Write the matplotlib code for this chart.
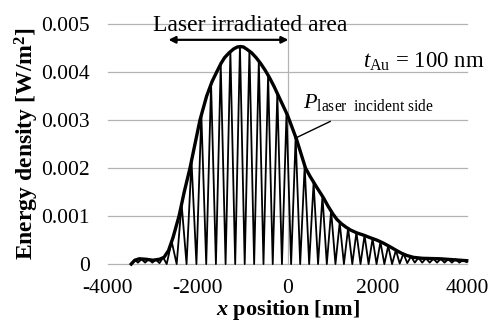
import matplotlib
matplotlib.use("Agg")
import matplotlib.pyplot as plt

plt.rcParams['font.family'] = ['Liberation Serif', 'DejaVu Serif']
plt.rcParams['mathtext.fontset'] = 'custom'
plt.rcParams['mathtext.rm'] = 'Liberation Serif'
plt.rcParams['mathtext.it'] = 'Liberation Serif:italic'
plt.rcParams['mathtext.bf'] = 'Liberation Serif:bold'
plt.rcParams['mathtext.bfit'] = 'Liberation Serif:italic:bold'

# envelope (thick line)
env_x = [-3480, -3400, -3300, -3150, -3000, -2850, -2750, -2650, -2550, -2415,
         -2300, -2171, -2060, -1949, -1800, -1680, -1577, -1480, -1400, -1300,
         -1200, -1120, -1050, -980, -900, -800, -700, -600, -500, -400,
         -300, -200, -100, 0, 100, 200, 300, 400, 500, 650,
         800, 900, 1013, 1100, 1200, 1300, 1400, 1540, 1700, 1837,
         1986, 2127, 2283, 2450, 2550, 2654, 2800, 3000, 3400, 3990]
env_y = [0.0, 0.00008, 0.00011, 0.0001, 0.00008, 0.0001, 0.00014, 0.00028, 0.00055, 0.001,
         0.0015, 0.002, 0.0025, 0.003, 0.0035, 0.0038, 0.004, 0.00418, 0.0043, 0.0044,
         0.00448, 0.00452, 0.00453, 0.00452, 0.00447, 0.0044, 0.0043, 0.00418, 0.00404, 0.00388,
         0.0037, 0.0035, 0.0033, 0.0031, 0.00285, 0.0026, 0.0023, 0.002, 0.00183, 0.0016,
         0.00138, 0.00121, 0.00104, 0.00093, 0.00084, 0.00077, 0.00071, 0.00065, 0.0006, 0.00055,
         0.0005, 0.00044, 0.00036, 0.00027, 0.00022, 0.00018, 0.00014, 0.00012, 0.00011, 0.00007]

# oscillating curve (thin line): alternating troughs and peaks
osc_x = [-3480, -3400, -3330, -3250, -3170, -3090, -3010, -2930, -2850, -2770,
         -2690, -2579, -2468, -2358, -2248, -2138, -2028, -1919, -1810, -1702,
         -1594, -1487, -1379, -1272, -1165, -1059, -953, -848, -743, -639,
         -535, -432, -329, -227, -124, -22, 80, 181, 282, 382,
         482, 581, 680, 778, 875, 971, 1067, 1162, 1256, 1349,
         1442, 1534, 1625, 1715, 1805, 1894, 1982, 2069, 2156, 2242,
         2328, 2413, 2498, 2582, 2666, 2750, 2833, 2916, 2999, 3082,
         3165, 3248, 3330, 3413, 3495, 3578, 3660, 3743, 3825, 3908, 3990]
osc_y = [0.0, 0.00009, 0.00003, 0.0001, 0.00003, 0.0001, 0.00003, 0.00009, 0.00002, 0.00014,
         0.0, 0.00047, 0.0, 0.00125, 0.0, 0.00215, 0.0, 0.00312, 0.0, 0.00375,
         0.0, 0.00415, 0.0, 0.00441, 0.0, 0.00453, 0.0, 0.00444, 0.0, 0.00422,
         0.0, 0.00393, 0.0, 0.00355, 0.0, 0.00315, 0.0, 0.00264, 0.0, 0.00204,
         0.0, 0.0017, 0.0, 0.00141, 0.0, 0.00111, 0.0, 0.00086, 0.0, 0.00075,
         0.0, 0.00066, 0.0, 0.0006, 0.0, 0.00053, 0.0, 0.00046, 0.0, 0.00038,
         0.0, 0.00029, 0.00001, 0.00022, 0.00002, 0.00016, 0.00003, 0.00013, 0.00003, 0.00012,
         0.00003, 0.00011, 0.00003, 0.00011, 0.00003, 0.0001, 0.00003, 0.0001, 0.00003, 0.00008, 0.00004]

yticks = [0, 0.001, 0.002, 0.003, 0.004, 0.005]
ytick_labels = ['0', '0.001', '0.002', '0.003', '0.004', '0.005']
xticks = [-4000, -2000, 0, 2000, 4000]

fig = plt.figure(figsize=(4.97, 3.24), dpi=100)
ax = fig.add_axes([0.217, 0.185, 0.723, 0.741])

grid_c = '#b4b4b4'
for v in yticks:
    ax.axhline(v, color=grid_c, lw=0.9, zorder=0, clip_on=False)
ax.axvline(0, color=grid_c, lw=0.9, zorder=0)

ax.plot(osc_x, osc_y, color='black', lw=1.3, zorder=2, clip_on=False)
ax.plot(env_x, env_y, color='black', lw=2.4, zorder=3, clip_on=False,
        solid_joinstyle='round')

ax.set_xlim(-4000, 4000)
ax.set_ylim(0, 0.005)
ax.set_xticks(xticks)
ax.set_xticklabels([str(v) for v in xticks])
ax.set_yticks(yticks)
ax.set_yticklabels(ytick_labels)
ax.tick_params(length=0, labelsize=15.5)
ax.tick_params(axis='y', pad=13)
ax.tick_params(axis='x', pad=11)
for s in ax.spines.values():
    s.set_visible(False)

ax.set_ylabel(r'Energy density [W/m$^{\mathbf{2}}$]', fontsize=17, fontweight='bold', labelpad=0)
ax.set_xlabel(r'$\mathbfit{x}$ position [nm]', fontsize=16, fontweight='bold', labelpad=0)

ax.annotate('', xy=(-2650, 0.00467), xytext=(20, 0.00467),
            arrowprops=dict(arrowstyle='<|-|>', color='black', lw=1.6,
                            mutation_scale=10, shrinkA=0, shrinkB=0))
ax.text(-835, 0.00497, 'Laser irradiated area', fontsize=17, ha='center', va='center')
ax.text(1680, 0.00421, r'$t_{\mathrm{Au}}$ = 100 nm', fontsize=16.5, ha='left', va='center')
ax.text(345, 0.00337, r'$P_{\mathrm{laser\ \ incident\ side}}$', fontsize=16, ha='left', va='center')
ax.plot([950, 170], [0.00297, 0.00262], color='black', lw=1.0)

fig.savefig('out.png', dpi=100)
